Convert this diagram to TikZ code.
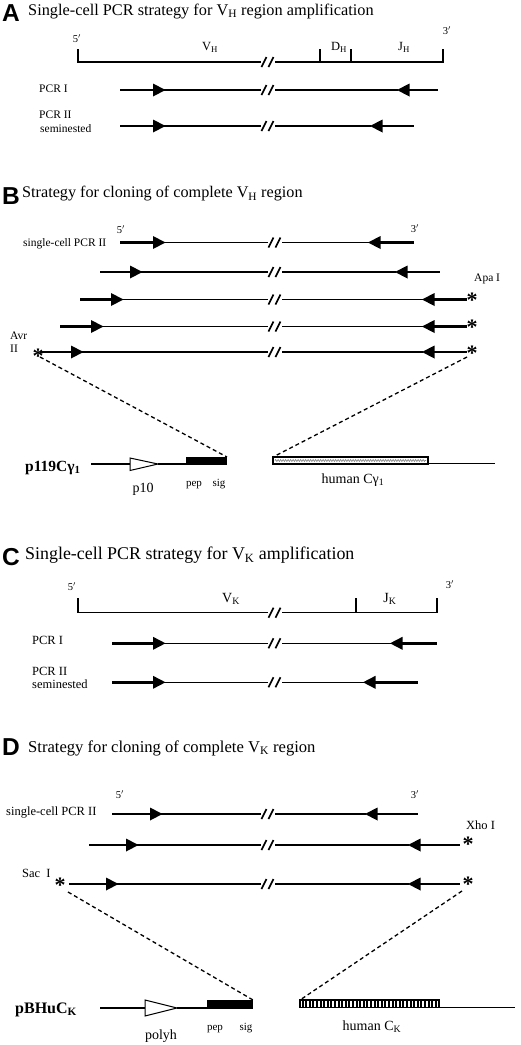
\documentclass[tikz,border=0pt]{standalone}
\usepackage{fontspec}
\setmainfont{Liberation Serif}
\newfontfamily\lsans{Liberation Sans}
\usetikzlibrary{decorations.pathmorphing}
\tikzset{
  dnaline/.style={line width=1.2pt},
  thickend/.style={line width=2.8pt},
  slashmark/.style={line width=1.7pt},
  dashconn/.style={dash pattern=on 4pt off 3pt, line width=1.3pt},
  panel/.style={font=\lsans\bfseries\fontsize{24.5}{25}\selectfont, anchor=base west, inner sep=0pt},
  ttl/.style={anchor=base west, inner sep=0pt},
  lblab/.style={font=\fontsize{11.5}{13}\selectfont, anchor=base west, inner sep=0pt},
  lblcd/.style={font=\fontsize{12.5}{14}\selectfont, anchor=base west, inner sep=0pt},
  primelbl/.style={font=\fontsize{10.5}{12}\selectfont, inner sep=0pt},
  seglbl/.style={font=\fontsize{12.5}{14}\selectfont, anchor=base, inner sep=0pt},
  seglblcd/.style={font=\fontsize{14}{15}\selectfont, anchor=base, inner sep=0pt},
  astr/.style={font=\bfseries\fontsize{22}{22}\selectfont, anchor=base, inner sep=0pt},
  vecname/.style={font=\bfseries\fontsize{15.5}{17}\selectfont, anchor=base west, inner sep=0pt},
  smalllbl/.style={font=\fontsize{11}{12}\selectfont, anchor=base, inner sep=0pt},
  midlbl/.style={font=\fontsize{14}{16}\selectfont, anchor=base, inner sep=0pt},
}
\newcommand\brkmark[2]{\draw[slashmark] ({#1-6.5},{#2+5}) -- ({#1-1.5},{#2-5}) ({#1+0.5},{#2+5}) -- ({#1+5.5},{#2-5});}
% #1 y, #2 x start, #3 forward head base, #4 break x, #5 reverse head tip, #6 x end, #7 middle width
\newcommand\prodrow[7]{%
  \draw[thickend] (#2,#1) -- (#3,#1);
  \fill (#3,{#1-6.5}) -- (#3,{#1+6.5}) -- ({#3+12.5},#1) -- cycle;
  \draw[line width=#7] ({#3+11},#1) -- ({#4-7},#1);
  \draw[line width=#7] ({#4+7},#1) -- ({#5+1},#1);
  \fill (#5,#1) -- ({#5+12.5},{#1-6.5}) -- ({#5+12.5},{#1+6.5}) -- cycle;
  \draw[thickend] ({#5+12},#1) -- (#6,#1);
  \brkmark{#4}{#1}}
\begin{document}
\begin{tikzpicture}[x=1pt,y=-1pt]
\fill[white] (0,0) rectangle (520,1045);
\useasboundingbox (0,0) rectangle (520,1045);

% ---------------- Panel A
\node[panel] (lA) at (2,21.5) {A};
\node[ttl, font=\fontsize{16.3}{18}\selectfont] (tA) at (28,15) {Single-cell PCR strategy for V\textsubscript{H} region amplification};
\node[primelbl] (a5) at (77,39) {5$'$};
\node[primelbl] (a3) at (447,31) {3$'$};
\node[seglbl] (aVH) at (210,50.5) {V\textsubscript{H}};
\node[seglbl] (aDH) at (339,50.5) {D\textsubscript{H}};
\node[seglbl] (aJH) at (404,50.5) {J\textsubscript{H}};
\draw[dnaline] (78,49) -- (78,62) -- (261,62);
\draw[dnaline] (275,62) -- (443,62) -- (443,49);
\draw[dnaline] (320,49) -- (320,62) (351,49) -- (351,62);
\brkmark{268}{62}
\node[lblab] (aP1) at (39,92.5) {PCR I};
\node[lblab] (aP2) at (39,118.5) {PCR II};
\node[lblab] (aP2s) at (40,132) {seminested};
\prodrow{90}{120}{153}{268}{397}{438}{1.6pt}
\prodrow{126}{120}{153}{268}{370}{414}{1.1pt}

% ---------------- Panel B
\node[panel] (lB) at (2,204) {B};
\node[ttl, font=\fontsize{16.2}{18}\selectfont] (tB) at (22,197.5) {Strategy for cloning of complete V\textsubscript{H} region};
\node[primelbl] (b5) at (121,230) {5$'$};
\node[primelbl] (b3) at (415,229) {3$'$};
\node[lblab] (bPCR) at (23,246) {single-cell PCR II};
\prodrow{242.5}{120}{153}{275}{368}{414}{1.1pt}
\prodrow{272}{100}{130}{275}{395}{440}{1.1pt}
\prodrow{299.5}{80}{111}{275}{422}{467}{1.1pt}
\prodrow{326.5}{60}{91}{275}{422}{467}{1.1pt}
\prodrow{352}{40}{71}{275}{422}{467}{1.7pt}
\node[lblab] (bApa) at (474,281.5) {Apa I};
\node[lblab] (bAvr) at (10,339.5) {Avr};
\node[lblab] (bAvr2) at (10,352) {II};
\node[astr] (bs3) at (472,307.5) {*};
\node[astr] (bs4) at (472,334.5) {*};
\node[astr] (bs5) at (472,360.5) {*};
\node[astr] (bsL) at (38,363) {*};
\coordinate (bLtop) at (40,357);
\coordinate (bRtop) at (467,357);
% vector
\node[vecname] (bvec) at (25,471) {p119Cγ\textsubscript{1}};
\draw[dnaline] (91,464) -- (130,464);
\draw[line width=1pt, fill=white, line join=miter] (130,458) -- (158,464) -- (130,470.5) -- cycle;
\draw[dnaline] (158,464) -- (186,464);
\fill (186,457) rectangle (227,464.6);
\coordinate (bSig) at (227,457);
\draw[line width=1.2pt] (273,457) rectangle (428,464);
\draw[gray, line width=0.6pt, decorate, decoration={zigzag, segment length=2.5pt, amplitude=1pt}] (275,460.5) -- (426,460.5);
\coordinate (bHum) at (273,457);
\draw[dnaline] (428,463.5) -- (495,463.5);
\node[midlbl] (bp10) at (143,492) {p10};
\node[smalllbl] (bpep) at (194,486) {pep};
\node[smalllbl] (bsig) at (219,486) {sig};
\node[midlbl] (bhum) at (353,483.5) {human Cγ\textsubscript{1}};
\draw[dashconn] (bLtop) -- (bSig);
\draw[dashconn] (bRtop) -- (bHum);

% ---------------- Panel C
\node[panel] (lC) at (2,565) {C};
\node[ttl, font=\fontsize{17.9}{20}\selectfont] (tC) at (25,559.5) {Single-cell PCR strategy for V\textsubscript{K} amplification};
\node[primelbl] (c5) at (72,587) {5$'$};
\node[primelbl] (c3) at (450,585) {3$'$};
\node[seglblcd] (cVK) at (231,602) {V\textsubscript{K}};
\node[seglblcd] (cJK) at (390,602) {J\textsubscript{K}};
\draw[dnaline] (78,598) -- (78,612.7) -- (268,612.7);
\draw[dnaline] (282,612.7) -- (437,612.7) -- (437,598);
\draw[dnaline] (356,598) -- (356,612.7);
\brkmark{275}{612.7}
\node[lblcd] (cP1) at (32,644) {PCR I};
\node[lblcd] (cP2) at (32,675) {PCR II};
\node[lblcd] (cP2s) at (32,688) {seminested};
\prodrow{643.3}{112}{153}{275}{390}{437}{1.1pt}
\prodrow{682.3}{112}{153}{275}{363}{418}{1.1pt}

% ---------------- Panel D
\node[panel] (lD) at (2,755) {D};
\node[ttl, font=\fontsize{16.6}{18}\selectfont] (tD) at (28,752) {Strategy for cloning of complete V\textsubscript{K} region};
\node[primelbl] (d5) at (120,795) {5$'$};
\node[primelbl] (d3) at (415,795) {3$'$};
\node[lblcd] (dPCR) at (6,815) {single-cell PCR II};
\prodrow{814}{112}{150}{268}{365}{418}{1.1pt}
\prodrow{845}{89}{126}{268}{408}{460}{1.1pt}
\prodrow{884}{69}{106}{268}{408}{460}{1.1pt}
\node[lblcd] (dXho) at (466,829.5) {Xho I};
\node[lblcd] (dSac) at (22,877.5) {Sac\ \ I};
\node[astr] (ds2) at (468,851) {*};
\node[astr] (ds3) at (468,891) {*};
\node[astr] (dsL) at (60,892) {*};
\coordinate (dLtop) at (68,892);
\coordinate (dRtop) at (462,891);
% vector
\node[vecname, font=\bfseries\fontsize{16}{18}\selectfont] (dvec) at (15,1013) {pBHuC\textsubscript{K}};
\draw[dnaline] (100,1008) -- (145,1008);
\draw[line width=1pt, fill=white, line join=miter] (145,1000) -- (177,1008) -- (145,1016) -- cycle;
\draw[dnaline] (177,1008) -- (207,1008);
\fill (207,1000) rectangle (253,1008.6);
\coordinate (dSig) at (253,1000);
\draw[line width=1.2pt] (300,1000) rectangle (439,1007.5);
\foreach \i in {302.5,306.1,...,437} \draw[line width=2pt] (\i,1000) -- (\i,1007.5);
\coordinate (dHum) at (300,1000);
\draw[dnaline] (439,1007.7) -- (515,1007.7);
\node[seglblcd] (dpoly) at (161,1039) {polyh};
\node[smalllbl] (dpep) at (215,1030) {pep};
\node[smalllbl] (dsig) at (246,1030) {sig};
\node[midlbl] (dhum) at (372,1030) {human C\textsubscript{K}};
\draw[dashconn] (dLtop) -- (dSig);
\draw[dashconn] (dRtop) -- (dHum);
\end{tikzpicture}
\end{document}
